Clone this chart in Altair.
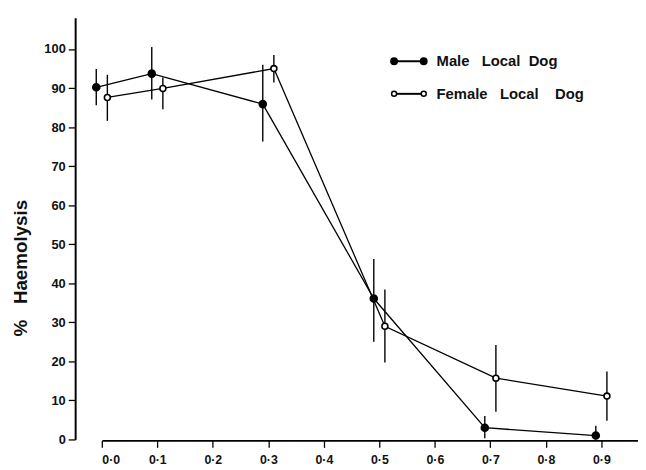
import altair as alt
import pandas as pd

# ---- data ----
conc_male = [-0.01, 0.09, 0.29, 0.49, 0.69, 0.89]
haem_male = [90.2, 93.7, 85.9, 36.1, 3.0, 1.0]
lo_male = [85.6, 87.1, 76.3, 25.0, 0.3, 0.0]
hi_male = [94.9, 100.5, 96.0, 46.2, 6.0, 3.5]

conc_female = [0.01, 0.11, 0.31, 0.51, 0.71, 0.91]
haem_female = [87.6, 89.9, 95.0, 29.0, 15.7, 11.1]
lo_female = [81.6, 84.6, 91.4, 19.7, 7.1, 4.8]
hi_female = [93.4, 92.7, 98.5, 38.4, 24.2, 17.4]

series_names = ["Male\u00a0\u00a0 Local\u00a0 Dog",
                "Female\u00a0\u00a0 Local\u00a0\u00a0\u00a0 Dog"]
x_ticks = [0.0, 0.1, 0.2, 0.3, 0.4, 0.5, 0.6, 0.7, 0.8, 0.9]
y_ticks = [0, 10, 20, 30, 40, 50, 60, 70, 80, 90, 100]

FONT = "Liberation Sans"

male = pd.DataFrame({"x": conc_male, "y": haem_male, "lo": lo_male, "hi": hi_male, "s": "male"})
female = pd.DataFrame({"x": conc_female, "y": haem_female, "lo": lo_female, "hi": hi_female, "s": "female"})
both = pd.concat([male, female], ignore_index=True)

xs = alt.Scale(domain=[0, 0.966], nice=False, zero=False)
ys = alt.Scale(domain=[0, 108], nice=False)

X = alt.X("x:Q", scale=xs, axis=alt.Axis(
    values=x_ticks, title=None, grid=False,
    labelExpr="replace(format(datum.value, '.1f'), '.', '·')",
    domainColor="black", domainWidth=1.8, tickColor="black", tickWidth=1.3, tickSize=7,
    labelFont=FONT, labelFontSize=12.5, labelFontWeight="bold", labelColor="#111",
    labelPadding=6, offset=1))
Y = alt.Y("y:Q", scale=ys, axis=alt.Axis(
    values=y_ticks, title="%\u00a0\u00a0 Haemolysis", grid=False,
    domainColor="black", domainWidth=2, tickColor="black", tickWidth=1.3, tickSize=7,
    labelFont=FONT, labelFontSize=13, labelFontWeight="bold", labelColor="#111",
    labelPadding=3, offset=27,
    titleFont=FONT, titleFontSize=19, titleFontWeight="bold", titleColor="#111",
    titleX=-55, titleY=253, titleAngle=270, titleAlign="center", titleBaseline="middle"))

lines = alt.Chart(both).mark_line(color="black", strokeWidth=1.3).encode(
    x=X, y=Y, detail="s:N", order="x:Q")

errs = alt.Chart(both).mark_rule(color="black", strokeWidth=1.4).encode(
    x="x:Q", y="lo:Q", y2="hi:Q")

pts_m = alt.Chart(male).mark_point(shape="circle", filled=True, fill="black",
                                  stroke="black", size=45, opacity=1).encode(x="x:Q", y="y:Q")
pts_f = alt.Chart(female).mark_point(shape="circle", filled=True, fill="white",
                                    stroke="black", strokeWidth=1.6, size=36, opacity=1).encode(x="x:Q", y="y:Q")

# ---- manual legend ----
leg_m = pd.DataFrame({"label": [series_names[0]]})
leg_f = pd.DataFrame({"label": [series_names[1]]})

def legend_item(df, yy, filled):
    rule = alt.Chart(df).mark_rule(color="black", strokeWidth=2).encode(
        x=alt.value(296), x2=alt.value(326), y=alt.value(yy))
    dots = []
    for xx in (296, 326):
        if filled:
            d = alt.Chart(df).mark_point(shape="circle", filled=True, fill="black", stroke="black",
                                         size=36, opacity=1).encode(x=alt.value(xx), y=alt.value(yy))
        else:
            d = alt.Chart(df).mark_point(shape="circle", filled=True, fill="white", stroke="black",
                                         strokeWidth=1.5, size=26, opacity=1).encode(x=alt.value(xx), y=alt.value(yy))
        dots.append(d)
    txt = alt.Chart(df).mark_text(align="left", baseline="middle", font=FONT, fontSize=15,
                                  fontWeight="bold", color="#111").encode(
        x=alt.value(339), y=alt.value(yy), text="label:N")
    return alt.layer(rule, *dots, txt)

chart = alt.layer(
    lines, errs, pts_m, pts_f,
    legend_item(leg_m, 44, True),
    legend_item(leg_f, 77, False),
).properties(
    width=543, height=427,
    autosize=alt.AutoSizeParams(type="none"),
    padding={"left": 95, "top": 7, "right": 0, "bottom": 28},
).configure(background="white").configure_view(strokeWidth=0, stroke="transparent")

chart.save("out.html", embed_options={"renderer": "svg", "actions": False})
